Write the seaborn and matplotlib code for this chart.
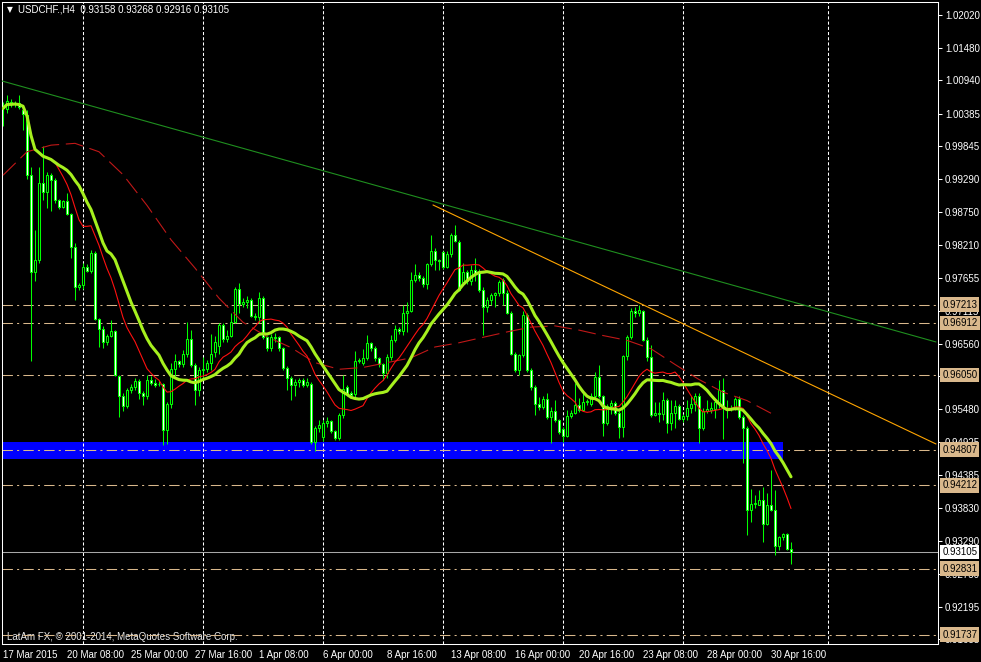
import numpy as np
import pandas as pd
import matplotlib
matplotlib.use("Agg")
import matplotlib.pyplot as plt
import seaborn as sns

# USDCHF H4 candles, 17 Mar 16:00 .. 1 May 2015
opens = [
    1.0050, 1.0046, 1.0058, 1.0054, 1.0056, 1.0044, 1.0036, 0.9937, 0.9776, 0.9795,
    0.9923, 0.9909, 0.9937, 0.9928, 0.9895, 0.9884, 0.9893, 0.9872, 0.9817, 0.9750,
    0.9754, 0.9784, 0.9777, 0.9807, 0.9697, 0.9681, 0.9659, 0.9669, 0.9677, 0.9603,
    0.9570, 0.9553, 0.9580, 0.9584, 0.9595, 0.9574, 0.9570, 0.9596, 0.9592, 0.9590,
    0.9590, 0.9513, 0.9557, 0.9615, 0.9628, 0.9623, 0.9640, 0.9665, 0.9621, 0.9580,
    0.9613, 0.9615, 0.9624, 0.9643, 0.9652, 0.9688, 0.9665, 0.9670, 0.9693, 0.9748,
    0.9723, 0.9725, 0.9729, 0.9703, 0.9700, 0.9732, 0.9668, 0.9650, 0.9668, 0.9668,
    0.9649, 0.9616, 0.9599, 0.9588, 0.9593, 0.9596, 0.9588, 0.9590, 0.9494, 0.9516,
    0.9502, 0.9525, 0.9528, 0.9511, 0.9500, 0.9538, 0.9585, 0.9575, 0.9573, 0.9627,
    0.9625, 0.9633, 0.9657, 0.9650, 0.9632, 0.9622, 0.9607, 0.9635, 0.9662, 0.9681,
    0.9677, 0.9707, 0.9710, 0.9763, 0.9771, 0.9765, 0.9755, 0.9788, 0.9810, 0.9795,
    0.9808, 0.9784, 0.9805, 0.9837, 0.9825, 0.9759, 0.9776, 0.9761, 0.9779, 0.9773,
    0.9745, 0.9718, 0.9729, 0.9738, 0.9741, 0.9762, 0.9740, 0.9707, 0.9640, 0.9613,
    0.9638, 0.9704, 0.9613, 0.9585, 0.9557, 0.9551, 0.9564, 0.9535, 0.9545, 0.9530,
    0.9515, 0.9504, 0.9536, 0.9542, 0.9555, 0.9546, 0.9559, 0.9557, 0.9569, 0.9601,
    0.9569, 0.9525, 0.9553, 0.9558, 0.9541, 0.9518, 0.9636, 0.9668, 0.9711, 0.9707,
    0.9710, 0.9663, 0.9635, 0.9538, 0.9541, 0.9540, 0.9563, 0.9524, 0.9541, 0.9553,
    0.9531, 0.9536, 0.9549, 0.9557, 0.9570, 0.9516, 0.9545, 0.9547, 0.9548, 0.9560,
    0.9580, 0.9549, 0.9548, 0.9549, 0.9564, 0.9535, 0.9516, 0.9381, 0.9390, 0.9389,
    0.9397, 0.9358, 0.9389, 0.9380, 0.9320, 0.9336, 0.9340, 0.93158,
]
highs = [
    1.0058, 1.0069, 1.0063, 1.0060, 1.0069, 1.0050, 1.0044, 0.9950, 0.9845, 0.9950,
    0.9984, 0.9942, 0.9940, 0.9932, 0.9897, 0.9895, 0.9906, 0.9874, 0.9823, 0.9758,
    0.9790, 0.9788, 0.9812, 0.9810, 0.9699, 0.9685, 0.9672, 0.9696, 0.9680, 0.9605,
    0.9575, 0.9583, 0.9590, 0.9600, 0.9598, 0.9578, 0.9605, 0.9602, 0.9598, 0.9594,
    0.9592, 0.9560, 0.9625, 0.9640, 0.9630, 0.9646, 0.9693, 0.9679, 0.9625, 0.9618,
    0.9635, 0.9630, 0.9673, 0.9670, 0.9690, 0.9690, 0.9680, 0.9707, 0.9751, 0.9757,
    0.9733, 0.9735, 0.9732, 0.9708, 0.9742, 0.9735, 0.9670, 0.9672, 0.9675, 0.9670,
    0.9651, 0.9620, 0.9603, 0.9598, 0.9600, 0.9600, 0.9600, 0.9593, 0.9520, 0.9530,
    0.9530, 0.9535, 0.9530, 0.9513, 0.9541, 0.9604, 0.9588, 0.9578, 0.9644, 0.9632,
    0.9647, 0.9671, 0.9660, 0.9652, 0.9635, 0.9625, 0.9640, 0.9671, 0.9687, 0.9684,
    0.9721, 0.9726, 0.9776, 0.9788, 0.9775, 0.9768, 0.9790, 0.9837, 0.9815, 0.9797,
    0.9810, 0.9810, 0.9840, 0.9853, 0.9828, 0.9790, 0.9779, 0.9787, 0.9798, 0.9781,
    0.9750, 0.9734, 0.9740, 0.9743, 0.9762, 0.9765, 0.9745, 0.9710, 0.9643, 0.9640,
    0.9710, 0.9707, 0.9616, 0.9588, 0.9568, 0.9569, 0.9574, 0.9552, 0.9563, 0.9532,
    0.9518, 0.9546, 0.9546, 0.9591, 0.9566, 0.9580, 0.9565, 0.9575, 0.9610, 0.9621,
    0.9572, 0.9556, 0.9563, 0.9561, 0.9544, 0.9638, 0.9671, 0.9715, 0.9718, 0.9720,
    0.9712, 0.9668, 0.9654, 0.9560, 0.9560, 0.9577, 0.9566, 0.9563, 0.9563, 0.9556,
    0.9540, 0.9563, 0.9569, 0.9574, 0.9574, 0.9549, 0.9563, 0.9560, 0.9563, 0.9596,
    0.9599, 0.9563, 0.9555, 0.9568, 0.9570, 0.9538, 0.9520, 0.9415, 0.9405, 0.9414,
    0.9419, 0.9408, 0.9447, 0.9414, 0.9338, 0.9342, 0.9343, 0.93268,
]
lows = [
    1.0017, 1.0040, 1.0050, 1.0050, 1.0046, 1.0011, 0.9930, 0.9627, 0.9760, 0.9790,
    0.9895, 0.9881, 0.9876, 0.9890, 0.9880, 0.9881, 0.9870, 0.9798, 0.9729, 0.9745,
    0.9747, 0.9775, 0.9774, 0.9695, 0.9651, 0.9650, 0.9655, 0.9667, 0.9603, 0.9535,
    0.9544, 0.9550, 0.9575, 0.9580, 0.9565, 0.9555, 0.9565, 0.9588, 0.9585, 0.9586,
    0.9488, 0.9490, 0.9550, 0.9602, 0.9618, 0.9618, 0.9635, 0.9618, 0.9555, 0.9570,
    0.9597, 0.9610, 0.9613, 0.9635, 0.9640, 0.9660, 0.9660, 0.9668, 0.9690, 0.9707,
    0.9718, 0.9715, 0.9700, 0.9695, 0.9690, 0.9665, 0.9645, 0.9645, 0.9660, 0.9645,
    0.9612, 0.9580, 0.9563, 0.9570, 0.9585, 0.9585, 0.9585, 0.9490, 0.9478, 0.9510,
    0.9495, 0.9518, 0.9508, 0.9497, 0.9497, 0.9533, 0.9570, 0.9568, 0.9568, 0.9624,
    0.9621, 0.9630, 0.9645, 0.9628, 0.9618, 0.9596, 0.9600, 0.9630, 0.9660, 0.9673,
    0.9671, 0.9676, 0.9709, 0.9759, 0.9760, 0.9750, 0.9748, 0.9785, 0.9779, 0.9779,
    0.9781, 0.9782, 0.9800, 0.9825, 0.9744, 0.9755, 0.9755, 0.9754, 0.9760, 0.9743,
    0.9671, 0.9709, 0.9720, 0.9718, 0.9735, 0.9721, 0.9705, 0.9638, 0.9610, 0.9605,
    0.9635, 0.9610, 0.9580, 0.9538, 0.9547, 0.9548, 0.9532, 0.9492, 0.9527, 0.9507,
    0.9494, 0.9501, 0.9533, 0.9539, 0.9543, 0.9544, 0.9555, 0.9553, 0.9566, 0.9566,
    0.9503, 0.9522, 0.9540, 0.9538, 0.9500, 0.9502, 0.9630, 0.9665, 0.9701, 0.9703,
    0.9661, 0.9627, 0.9535, 0.9537, 0.9527, 0.9530, 0.9509, 0.9513, 0.9516, 0.9530,
    0.9527, 0.9530, 0.9542, 0.9544, 0.9491, 0.9513, 0.9541, 0.9541, 0.9533, 0.9549,
    0.9499, 0.9533, 0.9545, 0.9546, 0.9532, 0.9458, 0.9339, 0.9361, 0.9384, 0.9388,
    0.9328, 0.9356, 0.9378, 0.9306, 0.9314, 0.9330, 0.9314, 0.92916,
]
closes = [
    1.0047, 1.0060, 1.0054, 1.0056, 1.0050, 1.0037, 0.9937, 0.9776, 0.9795, 0.9923,
    0.9909, 0.9937, 0.9928, 0.9895, 0.9884, 0.9893, 0.9872, 0.9817, 0.9750, 0.9754,
    0.9784, 0.9777, 0.9807, 0.9697, 0.9681, 0.9659, 0.9669, 0.9677, 0.9605, 0.9570,
    0.9553, 0.9580, 0.9584, 0.9595, 0.9574, 0.9570, 0.9596, 0.9592, 0.9588, 0.9589,
    0.9513, 0.9557, 0.9615, 0.9628, 0.9623, 0.9640, 0.9665, 0.9621, 0.9580, 0.9613,
    0.9615, 0.9624, 0.9640, 0.9660, 0.9688, 0.9665, 0.9670, 0.9693, 0.9748, 0.9723,
    0.9726, 0.9729, 0.9703, 0.9700, 0.9732, 0.9668, 0.9649, 0.9668, 0.9666, 0.9649,
    0.9616, 0.9599, 0.9588, 0.9593, 0.9596, 0.9588, 0.9593, 0.9494, 0.9516, 0.9521,
    0.9525, 0.9528, 0.9511, 0.9500, 0.9538, 0.9582, 0.9575, 0.9571, 0.9627, 0.9629,
    0.9633, 0.9657, 0.9650, 0.9632, 0.9622, 0.9607, 0.9635, 0.9662, 0.9681, 0.9677,
    0.9707, 0.9710, 0.9763, 0.9771, 0.9765, 0.9755, 0.9788, 0.9810, 0.9795, 0.9794,
    0.9784, 0.9805, 0.9837, 0.9827, 0.9746, 0.9776, 0.9761, 0.9779, 0.9773, 0.9745,
    0.9718, 0.9729, 0.9738, 0.9741, 0.9759, 0.9740, 0.9707, 0.9640, 0.9613, 0.9638,
    0.9704, 0.9613, 0.9585, 0.9557, 0.9551, 0.9564, 0.9535, 0.9545, 0.9530, 0.9510,
    0.9504, 0.9536, 0.9542, 0.9555, 0.9546, 0.9559, 0.9561, 0.9569, 0.9601, 0.9569,
    0.9525, 0.9553, 0.9558, 0.9541, 0.9518, 0.9636, 0.9668, 0.9711, 0.9707, 0.9712,
    0.9663, 0.9635, 0.9538, 0.9541, 0.9540, 0.9563, 0.9524, 0.9541, 0.9553, 0.9531,
    0.9536, 0.9549, 0.9557, 0.9570, 0.9516, 0.9545, 0.9548, 0.9549, 0.9560, 0.9580,
    0.9549, 0.9548, 0.9549, 0.9564, 0.9535, 0.9516, 0.9381, 0.9390, 0.9392, 0.9397,
    0.9358, 0.9389, 0.9380, 0.9320, 0.9336, 0.9340, 0.9316, 0.93105,
]

# slow moving average (dashed dark red), one reading every 6 bars
slow_ma = [
    0.9936, 0.9975, 0.9986, 0.9989, 0.9975, 0.9937, 0.9886, 0.9829, 0.9782, 0.9732,
    0.9692, 0.9668, 0.9650, 0.9625, 0.9614, 0.9617, 0.9625, 0.9633, 0.9651, 0.9658,
    0.9667, 0.9676, 0.9684, 0.9686, 0.9679, 0.9670, 0.9662, 0.9648, 0.9622, 0.9597,
    0.9576, 0.9562, 0.9541,
]

x_labels = ["17 Mar 2015", "20 Mar 08:00", "25 Mar 00:00", "27 Mar 16:00",
            "1 Apr 08:00", "6 Apr 00:00", "8 Apr 16:00", "13 Apr 08:00",
            "16 Apr 00:00", "20 Apr 16:00", "23 Apr 08:00", "28 Apr 00:00",
            "30 Apr 16:00"]
y_ticks = [1.02020, 1.01480, 1.00940, 1.00385, 0.99845, 0.99290, 0.98750,
           0.98210, 0.97655, 0.97115, 0.96560, 0.96020, 0.95480, 0.94925,
           0.94385, 0.93830, 0.93290, 0.92750, 0.92195, 0.91655]
hidden_ticks = [0.96020]  # fully covered by a level tag on the scale
levels = [0.97213, 0.96912, 0.96050, 0.94807, 0.94212, 0.92831, 0.91737]
last_price = 0.93105
zone_low, zone_high = 0.94651, 0.94933
zone_end_bar = 195
green_bars, green_prices = [-0.25, 233.25], [1.00925, 0.96593]
orange_bars, orange_prices = [107.5, 233.25], [0.98867, 0.94900]
week_bars = [20, 50, 80, 110, 140, 170, 206.25]

LIME = "#00ff00"
TAN = "#d9b88c"

df = pd.DataFrame({"bar": np.arange(len(closes)), "open": opens, "high": highs,
                   "low": lows, "close": closes})
df["ma14"] = df["close"].rolling(14, min_periods=1).mean()
df["ma20"] = df["close"].rolling(20, min_periods=1).mean()
slow_df = pd.DataFrame({"bar": np.arange(len(slow_ma)) * 6, "value": slow_ma})

sns.set_style("dark")
plt.rcParams["font.family"] = ["Liberation Sans", "DejaVu Sans"]

W, H = 981, 662
fig = plt.figure(figsize=(W / 100, H / 100), dpi=100, facecolor="black")
ax = fig.add_axes([2 / W, 18 / H, 936 / W, 642 / H])
ax.set_facecolor("black")
ax.set_xlim(-0.25, 233.75)
ax.set_ylim(0.91580, 1.02236)

# support zone
ax.fill_between([-0.25, zone_end_bar], zone_low, zone_high, color="#0000ff", lw=0, zorder=1)

# weekly grid
for b in week_bars:
    ax.axvline(b, color="white", lw=0.75, linestyle=(0, (3, 2)), zorder=1.5)

# horizontal levels
for lv in levels:
    ax.axhline(lv, color=TAN, lw=0.75, linestyle=(0, (10, 4, 2, 4)), zorder=1.6)
ax.axhline(last_price, color="#a8a8a8", lw=0.75, zorder=1.6)

# trend lines
ax.plot(green_bars, green_prices, color="#1f8f1f", lw=0.8, zorder=4)
ax.plot(orange_bars, orange_prices, color="#ffa500", lw=0.8, zorder=4)

# candles
ax.vlines(df["bar"], df["low"], df["high"], color=LIME, lw=0.75, zorder=2)
bull = df["close"] >= df["open"]
body_lo = np.minimum(df["open"], df["close"])
body_h = (df["close"] - df["open"]).abs()
ax.bar(df["bar"], body_h, bottom=body_lo, width=0.55,
       color=np.where(bull, "black", "white"), edgecolor=LIME, linewidth=0.75, zorder=3)

# moving averages
sns.lineplot(data=slow_df, x="bar", y="value", ax=ax, color="#c01818", lw=0.8,
             linestyle=(0, (16, 6)), zorder=5)
sns.lineplot(data=df, x="bar", y="ma14", ax=ax, color="#ff1010", lw=0.8, zorder=5)
sns.lineplot(data=df, x="bar", y="ma20", ax=ax, color="#a6f01e", lw=2.2, zorder=6)
ax.set_xlabel("")
ax.set_ylabel("")

# axes styling
for s in ax.spines.values():
    s.set_color("white")
    s.set_linewidth(0.75)
ax.grid(False)
ax.yaxis.tick_right()
ax.set_yticks(y_ticks)
ax.set_yticklabels(["" if v in hidden_ticks else f"{v:.5f}" for v in y_ticks])
ax.set_xticks(np.arange(0, len(closes), 16))
ax.set_xticklabels(x_labels, ha="left")
ax.tick_params(axis="y", colors="white", labelsize=7, length=3, width=0.75, pad=2,
               direction="out")
ax.tick_params(axis="x", colors="white", labelsize=7, length=3, width=0.75, pad=1.5,
               direction="out")

# level price tags on the scale
for lv in levels:
    ax.annotate(f"{lv:.5f}", xy=(1, lv), xycoords=("axes fraction", "data"),
                xytext=(3, 0), textcoords="offset points", va="center", ha="left",
                fontsize=7, color="black", annotation_clip=False, zorder=10,
                bbox=dict(boxstyle="square,pad=0.22", fc=TAN, ec="none"))
ax.annotate(f"{last_price:.5f}", xy=(1, last_price), xycoords=("axes fraction", "data"),
            xytext=(3, 0), textcoords="offset points", va="center", ha="left",
            fontsize=7, color="black", annotation_clip=False, zorder=10,
            bbox=dict(boxstyle="square,pad=0.22", fc="white", ec="none"))

# header and copyright
ax.text(5 / 936, 1 - 8 / 642, "\u25bc", transform=ax.transAxes, color="white",
        fontsize=5.5, va="center", ha="left", family=["DejaVu Sans"])
ax.text(16 / 936, 1 - 8 / 642, "USDCHF.,H4  0.93158 0.93268 0.92916 0.93105",
        transform=ax.transAxes, color="white", fontsize=7, va="center", ha="left")
ax.text(5 / 936, 7 / 642, "LatAm FX, \u00a9 2001-2014, MetaQuotes Software Corp.",
        transform=ax.transAxes, color="#e8e8e8", fontsize=7, va="center", ha="left",
        zorder=1.55)

fig.savefig("out.png", dpi=100, facecolor="black")
